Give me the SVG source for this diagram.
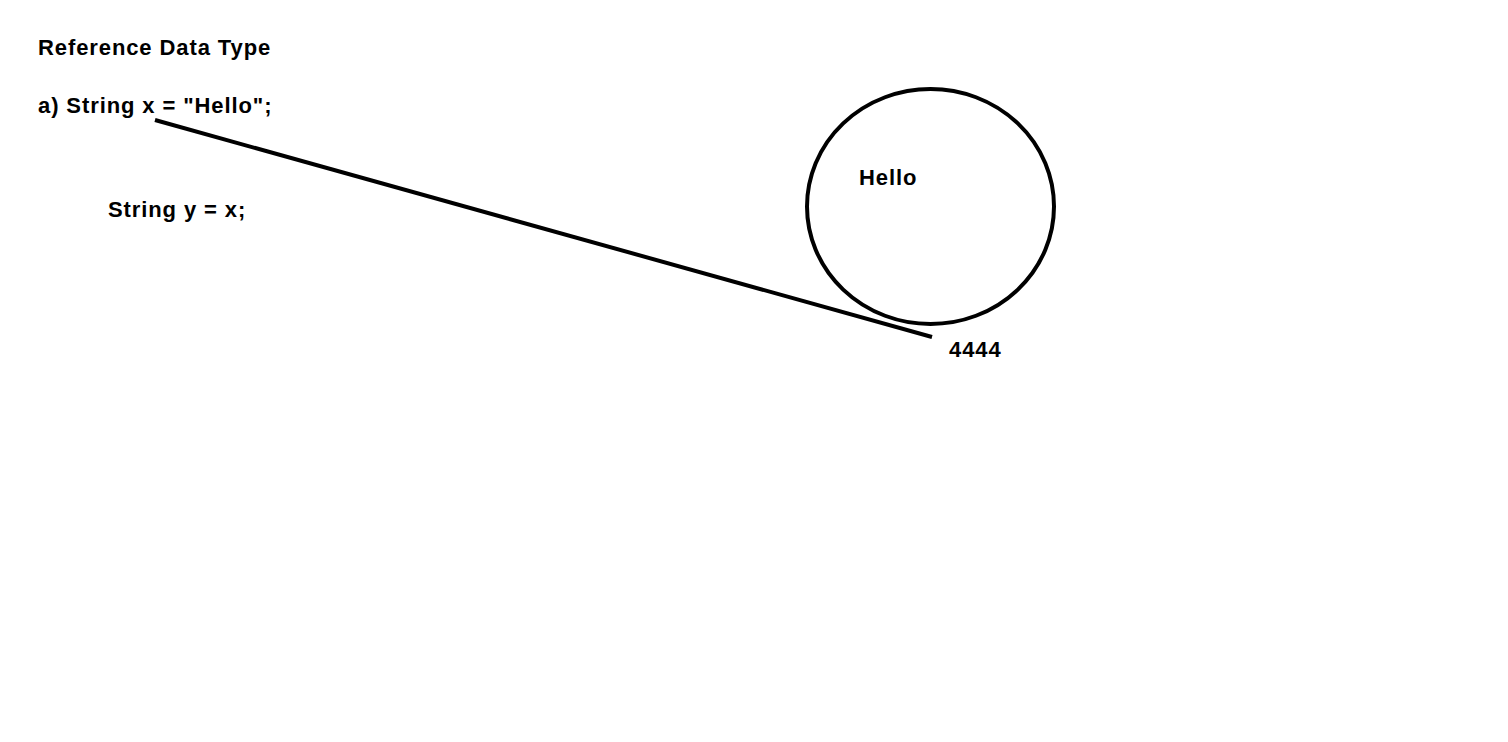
<svg xmlns="http://www.w3.org/2000/svg" width="1508" height="742" viewBox="0 0 1508 742">
<style>
text{font-family:"Liberation Sans",Arial,sans-serif;font-weight:bold;font-size:22px;letter-spacing:0.9px;fill:#000}
.s{fill:none;stroke:#000;stroke-width:4}
</style>
<rect width="1508" height="742" fill="#fff"/>
<g id="title"><text x="38" y="55">Reference Data Type</text></g>
<g id="code-a"><text x="38" y="113">a) String x = "Hello";</text></g>
<g id="code-b"><text x="108" y="217">String y = x;</text></g>
<g id="object">
<ellipse class="s" cx="930.5" cy="206.5" rx="123.5" ry="117.5"/>
<text x="859" y="185" letter-spacing="0.5">Hello</text>
</g>
<g id="address"><text x="949" y="357">4444</text></g>
<g id="connectors"><line class="s" x1="155" y1="120" x2="932" y2="337"/></g>
</svg>
